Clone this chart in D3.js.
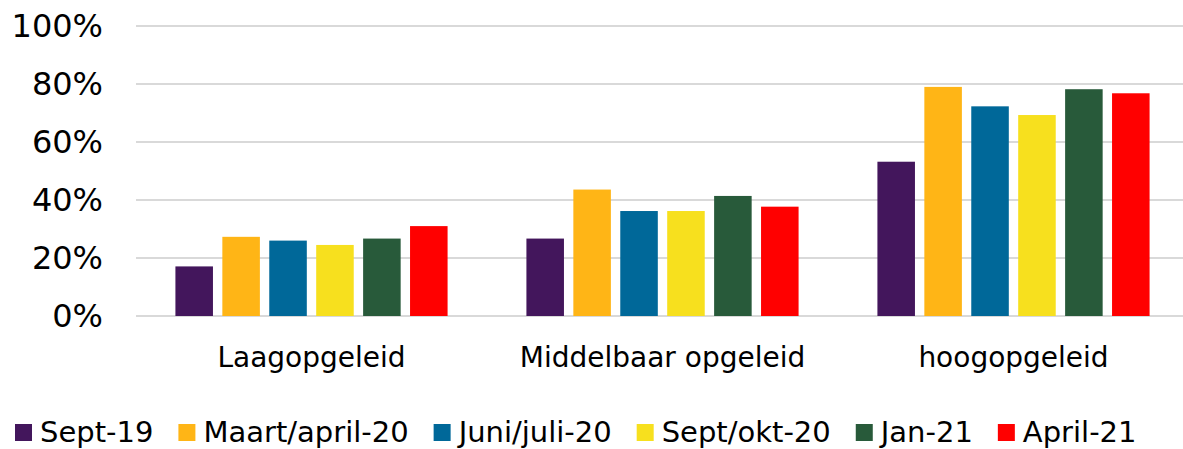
<!DOCTYPE html>
<html>
<head>
<meta charset="utf-8">
<script src="https://cdn.jsdelivr.net/npm/d3@7"></script>
<style>
  body { margin: 0; background: #fff; }
  svg { display: block; font-family: "DejaVu Sans", Verdana, sans-serif; }
</style>
</head>
<body>
<svg id="chart" width="1183" height="449"></svg>
<script>
// data (share of respondents)
const categories = ["Laagopgeleid", "Middelbaar opgeleid", "hoogopgeleid"];
const series = ["Sept-19", "Maart/april-20", "Juni/juli-20", "Sept/okt-20", "Jan-21", "April-21"];
const colors = ["#43165c", "#ffb516", "#006899", "#f7e01e", "#285a3a", "#ff0000"];
const values = {
  "Sept-19":        [0.171, 0.267, 0.532],
  "Maart/april-20": [0.273, 0.436, 0.790],
  "Juni/juli-20":   [0.260, 0.362, 0.723],
  "Sept/okt-20":    [0.245, 0.362, 0.693],
  "Jan-21":         [0.267, 0.414, 0.782],
  "April-21":       [0.310, 0.377, 0.768]
};
const yTicks = [0, 0.2, 0.4, 0.6, 0.8, 1];

const W = 1183, H = 449;
const svg = d3.select("#chart");

// scales
const x0 = d3.scaleBand().domain(categories).range([136, 1189]);
const x1 = d3.scaleBand().domain(series)
  .range([0, x0.bandwidth()])
  .paddingInner(0.2)
  .paddingOuter(0.84);
const y = d3.scaleLinear().domain([0, 1]).range([316, 26]);
const color = d3.scaleOrdinal().domain(series).range(colors);

// gridlines
svg.append("g")
  .selectAll("line")
  .data(yTicks)
  .enter()
  .append("line")
  .attr("x1", 136)
  .attr("x2", W)
  .attr("y1", d => y(d))
  .attr("y2", d => y(d))
  .style("stroke", "#d9d9d9")
  .style("stroke-width", 2);

// bars
const rows = [];
categories.forEach((c, i) => {
  series.forEach(s => rows.push({ cat: c, ser: s, v: values[s][i] }));
});
svg.append("g")
  .selectAll("rect")
  .data(rows)
  .enter()
  .append("rect")
  .attr("x", d => x0(d.cat) + x1(d.ser))
  .attr("width", x1.bandwidth())
  .attr("y", d => y(d.v))
  .attr("height", d => y(0) - y(d.v))
  .style("fill", d => color(d.ser));

// y axis labels
const yAxis = svg.append("g")
  .attr("transform", "translate(136,0)")
  .call(d3.axisLeft(y).tickValues(yTicks).tickFormat(d3.format(".0%")).tickSize(0).tickPadding(33));
yAxis.select(".domain").remove();
yAxis.selectAll("text")
  .style("font-family", "DejaVu Sans, Verdana, sans-serif")
  .style("font-size", "32px")
  .style("fill", "#000");

// category labels
const xAxis = svg.append("g")
  .attr("transform", "translate(0,316)")
  .call(d3.axisBottom(x0).tickSize(0).tickPadding(31));
xAxis.select(".domain").remove();
xAxis.selectAll("text")
  .style("font-family", "DejaVu Sans, Verdana, sans-serif")
  .style("font-size", "28px")
  .style("fill", "#000");

// legend, laid out left to right
const legend = svg.append("g");
let lx = 15;
series.forEach(s => {
  legend.append("rect")
    .attr("x", lx)
    .attr("y", 424)
    .attr("width", 17)
    .attr("height", 17)
    .style("fill", color(s));
  const t = legend.append("text")
    .attr("x", lx + 25)
    .attr("y", 442)
    .style("font-size", "29px")
    .style("fill", "#000")
    .text(s);
  lx += 25 + t.node().getComputedTextLength() + 25;
});
</script>
</body>
</html>
